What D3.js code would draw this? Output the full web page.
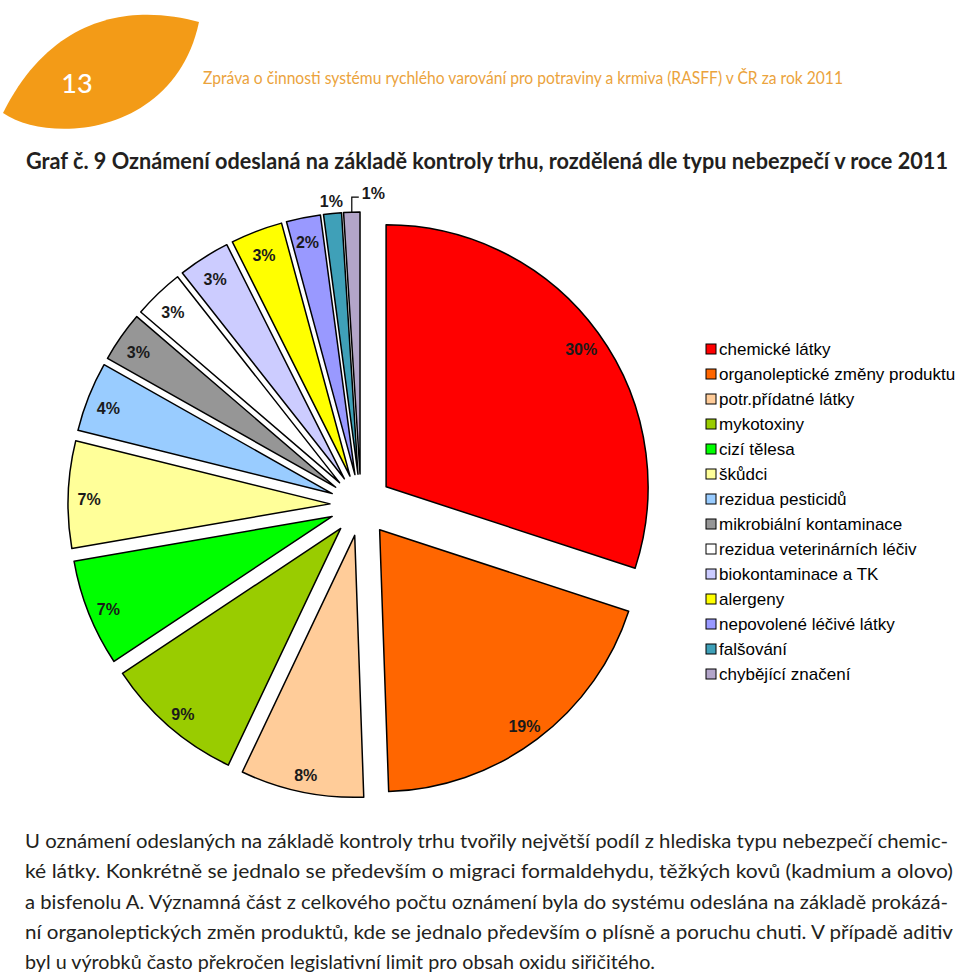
<!DOCTYPE html>
<html>
<head>
<meta charset="utf-8">
<script src="https://cdn.jsdelivr.net/npm/d3@7"></script>
<style>
  body { margin: 0; background: #fff; }
  svg { display: block; }
</style>
</head>
<body>
<div id="chart"></div>
<script>
// hazard categories, in the clockwise order of the pie (and of the legend)
const categories = [
  'chemické látky',
  'organoleptické změny produktu',
  'potr.přídatné látky',
  'mykotoxiny',
  'cizí tělesa',
  'škůdci',
  'rezidua pesticidů',
  'mikrobiální kontaminace',
  'rezidua veterinárních léčiv',
  'biokontaminace a TK',
  'alergeny',
  'nepovolené léčivé látky',
  'falšování',
  'chybějící značení'
]
// shares in % (labels show them rounded)
const shares = [30.0, 19.4, 7.6, 8.6, 6.6, 6.6, 4.3, 3.1, 3.1, 3.2, 3.2, 2.1, 1.1, 1.0]
const colors = [
  '#ff0000', '#ff6600', '#ffcc99', '#99cc00', '#00ff00', '#ffff99', '#99ccff',
  '#969696', '#ffffff', '#ccccff', '#ffff00', '#9999ff', '#3fa0b8', '#b3a5c9'
]

const title = 'Graf č. 9 Oznámení odeslaná na základě kontroly trhu, rozdělená dle typu nebezpečí v roce 2011'
const header = 'Zpráva o činnosti systému rychlého varování pro potraviny a krmiva (RASFF) v ČR za rok 2011'
const pageNo = '13'
const bodyLines = [
  'U oznámení odeslaných na základě kontroly trhu tvořily největší podíl z hlediska typu nebezpečí chemic-',
  'ké látky. Konkrétně se jednalo se především o migraci formaldehydu, těžkých kovů (kadmium a olovo)',
  'a bisfenolu A. Významná část z celkového počtu oznámení byla do systému odeslána na základě prokázá-',
  'ní organoleptických změn produktů, kde se jednalo především o plísně a poruchu chuti. V případě aditiv',
  'byl u výrobků často překročen legislativní limit pro obsah oxidu siřičitého.'
]

const width = 960
const height = 975

const svg = d3.select('#chart')
  .append('svg')
  .attr('width', width)
  .attr('height', height)

// --- page header ---
svg.append('path')
  .attr('d', 'M199,22 C140,6 55,9 3,113 C50,145 175,135 199,22 Z')
  .attr('fill', '#f39b17')

svg.append('text')
  .attr('x', 77).attr('y', 93)
  .attr('text-anchor', 'middle')
  .style('font', '500 27px Lato, sans-serif')
  .attr('fill', '#fff')
  .text(pageNo)

svg.append('text')
  .attr('x', 203).attr('y', 84)
  .attr('textLength', 640)
  .attr('lengthAdjust', 'spacingAndGlyphs')
  .style('font', '17px Lato, sans-serif')
  .attr('fill', '#eba33c')
  .text(header)

svg.append('text')
  .attr('x', 26).attr('y', 169)
  .attr('textLength', 922)
  .attr('lengthAdjust', 'spacingAndGlyphs')
  .style('font', 'bold 22px Lato, sans-serif')
  .attr('fill', '#231f20')
  .text(title)

// --- exploded pie ---
const cx = 361
const cy = 505
const R = 262
const explode = 31
const labelR = 241

const pie = d3.pie().sort(null).value(d => d)
const arcs = pie(shares)
const arc = d3.arc().innerRadius(0).outerRadius(R)
const labelArc = d3.arc().innerRadius(labelR).outerRadius(labelR)

const mid = d => (d.startAngle + d.endAngle) / 2
const shift = d => [Math.sin(mid(d)) * explode, -Math.cos(mid(d)) * explode]

const g = svg.append('g').attr('transform', `translate(${cx},${cy})`)

const slices = g.selectAll('g.slice')
  .data(arcs)
  .enter()
  .append('g')
  .attr('class', 'slice')
  .attr('transform', d => `translate(${shift(d)})`)

slices.append('path')
  .attr('d', arc)
  .attr('fill', (d, i) => colors[i])
  .attr('stroke', '#000')
  .attr('stroke-width', 1.5)
  .attr('stroke-linejoin', 'round')

const pct = d => Math.round(d.data) + '%'
const n = arcs.length

// labels inside the outer end of the bigger slices
slices.filter((d, i) => i < n - 2)
  .append('text')
  .attr('transform', d => `translate(${labelArc.centroid(d)})`)
  .attr('text-anchor', 'middle')
  .attr('dy', '0.6em')
  .style('font', 'bold 16px "Liberation Sans", Arial, sans-serif')
  .attr('fill', '#1a1a1a')
  .text(pct)

// falšování: label just outside the arc
const outArc = d3.arc().innerRadius(R + 12).outerRadius(R + 12)
slices.filter((d, i) => i === n - 2)
  .append('text')
  .attr('transform', d => `translate(${outArc.centroid(d)})`)
  .attr('text-anchor', 'middle')
  .attr('dy', '0.35em')
  .style('font', 'bold 16px "Liberation Sans", Arial, sans-serif')
  .attr('fill', '#1a1a1a')
  .text(pct)

// chybějící značení: label with a bracket leader line
const last = slices.filter((d, i) => i === n - 1)
last.each(function(d) {
  const a = mid(d)
  const x0 = Math.sin(a) * R
  const y0 = -Math.cos(a) * R
  const sel = d3.select(this)
  sel.append('path')
    .attr('d', `M${x0},${y0} V${y0 - 15} H${x0 + 7}`)
    .attr('fill', 'none')
    .attr('stroke', '#000')
    .attr('stroke-width', 1.2)
  sel.append('text')
    .attr('x', x0 + 10)
    .attr('y', y0 - 19)
    .attr('dy', '0.35em')
    .style('font', 'bold 16px "Liberation Sans", Arial, sans-serif')
    .attr('fill', '#1a1a1a')
    .text(pct(d))
})

// --- legend ---
const legend = svg.append('g').attr('transform', 'translate(706,349)')
const rows = legend.selectAll('g')
  .data(categories)
  .enter()
  .append('g')
  .attr('transform', (d, i) => `translate(0,${i * 25})`)

rows.append('rect')
  .attr('x', 0).attr('y', -5)
  .attr('width', 10).attr('height', 10)
  .attr('fill', (d, i) => colors[i])
  .attr('stroke', '#000')
  .attr('stroke-width', 1)

rows.append('text')
  .attr('x', 13)
  .attr('dy', '0.35em')
  .style('font', '17px "Liberation Sans", Arial, sans-serif')
  .attr('fill', '#000')
  .text(d => d)

// --- body text, justified ---
const body = svg.append('g')
bodyLines.forEach((line, i) => {
  const t = body.append('text')
    .attr('x', 25)
    .attr('y', 848 + i * 30.3)
    .style('font', '19.5px Lato, sans-serif')
    .attr('fill', '#231f20')
    .text(line)
  const isLast = i === bodyLines.length - 1
  t.attr('textLength', isLast ? 630 : (i === 1 || i === 3 ? 928 : 923))
    .attr('lengthAdjust', 'spacingAndGlyphs')
})
</script>
</body>
</html>
